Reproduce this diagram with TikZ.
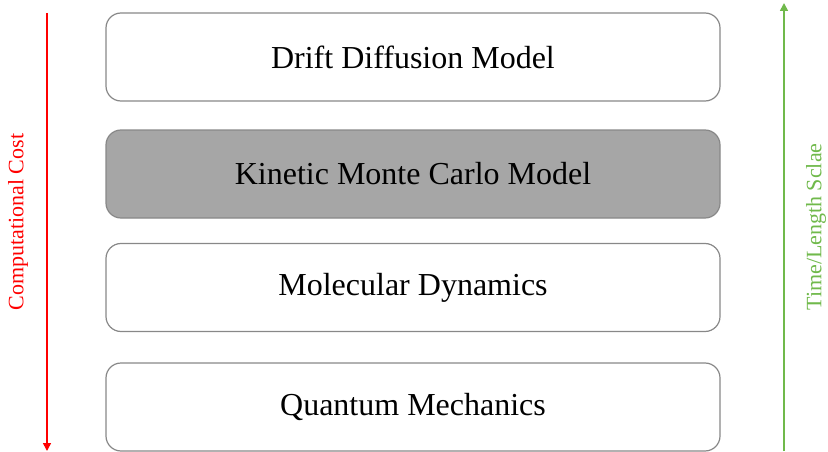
\documentclass[tikz,border=0pt]{standalone}
\usepackage{fontspec}
\setmainfont{Liberation Serif}
\usetikzlibrary{arrows.meta,positioning}
\definecolor{boxgray}{RGB}{136,136,136}
\definecolor{kmcfill}{RGB}{166,166,166}
\definecolor{costred}{RGB}{255,0,0}
\definecolor{scalegreen}{RGB}{112,185,75}

\begin{document}
\begin{tikzpicture}[x=1pt, y=-1pt,
    level/.style={rectangle, rounded corners=15pt, draw=boxgray, line width=1.2pt, fill=white,
        minimum width=614pt, minimum height=88pt, font=\fontsize{32}{36}\selectfont},
    axis/.style={-{Triangle[length=8pt, width=8pt]}, line width=1.6pt},
    axislabel/.style={rotate=90, font=\fontsize{22}{26}\selectfont}]

    \useasboundingbox (0,0) rectangle (828,452);

    % Model levels
    \node[level] (ddm) at (413,57) {Drift Diffusion Model};
    \node[level, fill=kmcfill] (kmc) at (413,174) {Kinetic Monte Carlo Model};
    \node[level] (md) at (413,287.5) {Molecular Dynamics};
    \node[level] (qm) at (413,407) {Quantum Mechanics};

    % Cost axis
    \coordinate (costtop) at (47,13);
    \coordinate (costbot) at (47,451);
    \draw[axis, costred] (costtop) -- (costbot);
    \node[axislabel, text=costred] (cost) at (18,222) {Computational Cost};

    % Scale axis
    \coordinate (scalebot) at (784,451);
    \coordinate (scaletop) at (784,3);
    \draw[axis, scalegreen] (scalebot) -- (scaletop);
    \node[axislabel, text=scalegreen] (scale) at (816,227) {Time/Length Sclae};
\end{tikzpicture}
\end{document}
